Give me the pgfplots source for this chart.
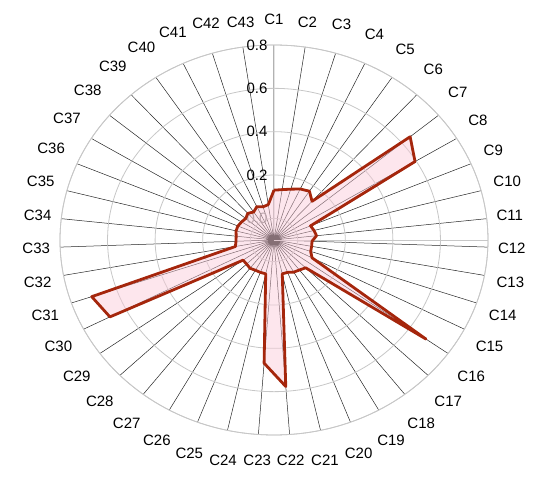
\documentclass[border=0pt]{standalone}
\usepackage{fontspec}
\setmainfont{Liberation Sans}
\usepackage{pgfplots}
\usepackage{pgfplotstable}
\pgfplotsset{compat=1.18}
\usepgfplotslibrary{polar}

\definecolor{radarline}{RGB}{165,38,12}
\definecolor{radarfill}{RGB}{250,200,215}

% k = category, v = value (first row repeated to close the polygon)
\pgfplotstableread{
k v
1 0.130
2 0.135
3 0.145
4 0.160
5 0.170
6 0.140
7 0.645
8 0.595
9 0.067
10 0.074
11 0.080
12 0.060
13 0.061
14 0.063
15 0.080
16 0.686
17 0.085
18 0.075
19 0.070
20 0.060
21 0.060
22 0.578
23 0.470
24 0.060
25 0.060
26 0.060
27 0.065
28 0.060
29 0.060
30 0.676
31 0.710
32 0.065
33 0.060
34 0.060
35 0.065
36 0.065
37 0.060
38 0.055
39 0.065
40 0.055
41 0.070
42 0.060
43 0.065
44 0.130
}\radardata

\begin{document}
\begin{tikzpicture}
\useasboundingbox (-274pt,-246pt) rectangle (276pt,240pt);
\begin{polaraxis}[
    at={(0pt,0pt)}, anchor=center,
    scale only axis,
    width=428pt, height=390pt,
    xmin=0, xmax=360,
    ymin=0, ymax=0.9,
    xtick={6.27907,14.65116,...,358},
    xticklabels={C11,C10,C9,C8,C7,C6,C5,C4,C3,C2,C1,C43,C42,C41,C40,C39,C38,C37,C36,C35,C34,C33,C32,C31,C30,C29,C28,C27,C26,C25,C24,C23,C22,C21,C20,C19,C18,C17,C16,C15,C14,C13,C12},
    ytick={0.1,0.3,0.5,0.7,0.9},
    yticklabels={},
    xmajorgrids, ymajorgrids,
    x grid style={black!85, line width=0.5pt},
    y grid style={black!22, line width=0.8pt},
    axis line style={black!22, line width=0.8pt},
    major tick length=0pt,
    xticklabel style={font=\fontsize{15}{17}\selectfont, inner sep=10pt,
        yshift={10*sin(\tick)}},
    clip=false,
]
\node[anchor=east, xshift=-3pt, text=black!45, font=\fontsize{15}{17}\selectfont] at (axis cs:90,0.1) {0.0};
\node[anchor=east, xshift=-3pt, font=\fontsize{15}{17}\selectfont] at (axis cs:90,0.3) {0.2};
\node[anchor=east, xshift=-3pt, font=\fontsize{15}{17}\selectfont] at (axis cs:90,0.5) {0.4};
\node[anchor=east, xshift=-3pt, font=\fontsize{15}{17}\selectfont] at (axis cs:90,0.7) {0.6};
\node[anchor=east, xshift=-3pt, font=\fontsize{15}{17}\selectfont] at (axis cs:90,0.9) {0.8};
\addplot[draw=radarline, line width=2.8pt, line join=round,
    fill=radarfill, fill opacity=0.45]
    table[x expr={mod(450-(\thisrow{k}-1)*360/43,360)}, y expr={\thisrow{v}+0.1}] {\radardata};
\end{polaraxis}
\end{tikzpicture}
\end{document}
